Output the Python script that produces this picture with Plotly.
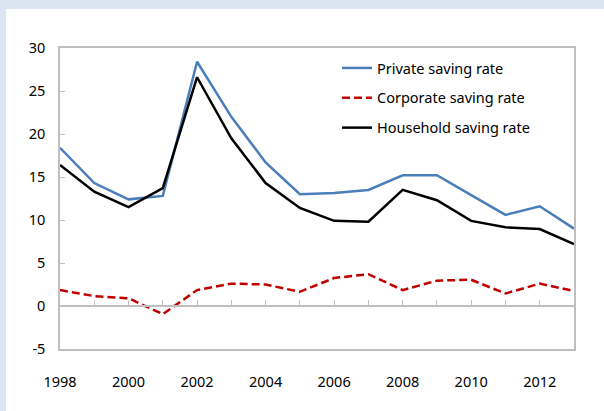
import plotly.graph_objects as go

years = list(range(1998, 2014))
private = [18.4, 14.3, 12.4, 12.8, 28.4, 22.0, 16.7, 13.0, 13.15, 13.5, 15.2, 15.2, 12.9, 10.6, 11.6, 9.0]
corporate = [1.85, 1.15, 0.9, -0.95, 1.85, 2.6, 2.5, 1.65, 3.25, 3.7, 1.85, 2.95, 3.05, 1.45, 2.6, 1.75]
household = [16.4, 13.3, 11.5, 13.7, 26.6, 19.5, 14.3, 11.4, 9.9, 9.8, 13.5, 12.3, 9.9, 9.15, 8.95, 7.2]
x_ticks = [1998, 2000, 2002, 2004, 2006, 2008, 2010, 2012]
y_ticks = [-5, 0, 5, 10, 15, 20, 25, 30]
y_labels = ["-5", "0", "5", "10", "15", "20", "25", "30"]

FONT = "Noto Sans"
GRAY = "#BFBFBF"

fig = go.Figure()
fig.add_trace(go.Scatter(x=years, y=private, mode="lines", name="Private saving rate",
                         line=dict(color="#4A7EBB", width=2.5), legendgroup="a"))
fig.add_trace(go.Scatter(x=years, y=corporate, mode="lines", name="Corporate saving rate",
                         line=dict(color="#C00000", width=2.5, dash="8px,4px"), legendgroup="b",
                         xaxis="x2"))
fig.add_trace(go.Scatter(x=years, y=household, mode="lines", name="Household saving rate",
                         line=dict(color="#000000", width=2.5), legendgroup="c"))

# white panel over light-blue frame
L, R, T, B = 60, 30, 48, 62
W, H = 604, 411
pw, ph = W - L - R, H - T - B
fig.add_shape(type="rect", xref="paper", yref="paper",
              x0=(6 - L) / pw, x1=(W + 5 - L) / pw,
              y0=(H - B - (H + 5)) / ph, y1=(H - B - 9) / ph,
              fillcolor="white", line=dict(width=0), layer="below")

fig.update_layout(
    width=W, height=H,
    margin=dict(l=L, r=R, t=T, b=B),
    paper_bgcolor="#DBE5F1",
    plot_bgcolor="white",
    font=dict(family=FONT, size=14.5, color="#000000"),
    showlegend=True,
    legend=dict(x=(337 - L) / pw, y=(H - B - 52) / ph, xanchor="left", yanchor="top",
                bgcolor="rgba(0,0,0,0)", font=dict(family=FONT, size=14.5),
                tracegroupgap=8, itemwidth=30),
    xaxis=dict(range=[1998, 2013], tickvals=x_ticks, ticktext=[str(v) for v in x_ticks],
               showgrid=False, zeroline=False, showline=True, mirror=True,
               linecolor=GRAY, linewidth=1.5, ticks="", ticklabelstandoff=19),
    xaxis2=dict(range=[1998, 2013], overlaying="x", anchor="free", position=5 / 35,
                side="bottom", dtick=1, tick0=1998, showticklabels=False,
                showgrid=False, zeroline=False, showline=True, linecolor=GRAY, linewidth=1.5,
                ticks="inside", ticklen=5, tickcolor=GRAY, tickwidth=1),
    yaxis=dict(range=[-5, 30], tickvals=y_ticks, ticktext=y_labels, showgrid=False,
               zeroline=False, showline=True, mirror=True, linecolor=GRAY, linewidth=1.5,
               ticks="inside", ticklen=5, tickcolor=GRAY, tickwidth=1, ticklabelstandoff=10),
)

fig.write_html("out.html", config={"displayModeBar": False},
               post_script="document.body.style.margin='0';")
